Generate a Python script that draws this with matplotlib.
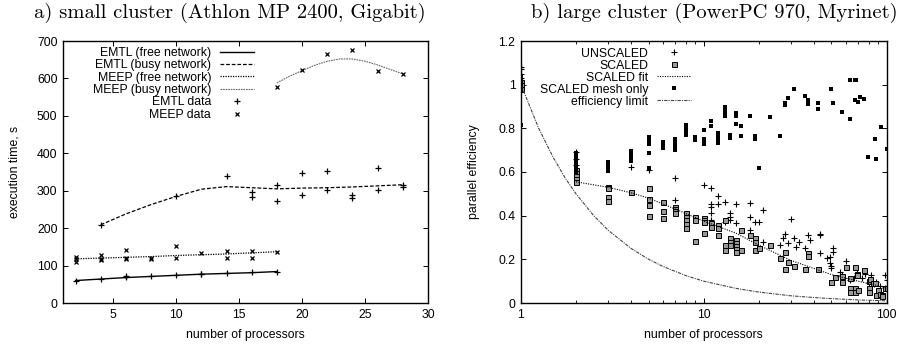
import matplotlib.pyplot as plt
import numpy as np
from matplotlib.ticker import FixedLocator, FuncFormatter, LogLocator, NullFormatter

# ---------------- a) small cluster ----------------
# EMTL, free network
emtl_free_n = [2, 4, 6, 6, 8, 10, 12, 12, 14, 16, 18]
emtl_free_t = [60, 64, 70, 72, 71, 75, 77, 78, 80, 82, 84]
emtl_free_fit_n = [2, 4, 6, 8, 10, 12, 14, 16, 18]
emtl_free_fit_t = [60, 64, 68, 71, 74, 77, 79, 81, 84]

# EMTL, busy network
emtl_busy_n = [4, 10, 14, 16, 16, 18, 18, 20, 20, 22, 22, 24, 24, 26, 26, 28, 28]
emtl_busy_t = [209, 285, 340, 297, 283, 315, 272, 346, 289, 353, 301, 289, 280, 361, 301, 315, 310]
emtl_busy_fit_n = [4, 6, 8, 10, 12, 14, 16, 18, 20, 22, 24, 26, 28]
emtl_busy_fit_t = [209, 238, 263, 285, 304, 311, 308, 305, 307, 308, 310, 313, 316]

# MEEP, free network
meep_free_n = [2, 2, 2, 4, 4, 4, 6, 6, 6, 8, 8, 10, 10, 12, 14, 14, 16, 16, 18]
meep_free_t = [123, 117, 110, 129, 117, 114, 142, 121, 118, 121, 118, 151, 119, 134, 139, 121, 139, 121, 137]
meep_free_fit_n = [2, 4, 6, 8, 10, 12, 14, 16, 18]
meep_free_fit_t = [118, 120, 122, 124, 127, 129, 131, 134, 137]

# MEEP, busy network
meep_busy_n = [18, 20, 22, 24, 26, 28]
meep_busy_t = [576, 622, 664, 675, 621, 612]
meep_busy_fit_n = [18, 19, 20, 21, 22, 23, 24, 25, 26, 27, 28]
meep_busy_fit_t = [588, 606, 621, 635, 646, 652, 652, 646, 636, 624, 612]

# ---------------- b) large cluster ----------------
unscaled_n = ([1]*7 + [2]*3 + [4, 5, 7, 7, 10] + [11]*5 + [12, 12, 13, 13, 14, 14, 14, 15, 15]
              + [18, 18, 18, 19, 20, 21, 21, 26, 27, 28, 29, 30, 31, 32, 33, 36, 37, 38]
              + [43, 43, 43, 47, 49, 49, 50, 50, 51, 51, 56, 57, 58, 60, 63, 66, 69, 73, 76,
                 80, 82, 85, 88, 92, 98, 98, 100, 100])
unscaled_e = ([1.08, 1.07, 1.05, 1.03, 1.01, 1.0, 0.98, 0.69, 0.66, 0.63, 0.622, 0.61, 0.571, 0.472, 0.54,
               0.525, 0.452, 0.441, 0.411, 0.38, 0.49, 0.452, 0.464, 0.372, 0.414, 0.396, 0.38, 0.452, 0.365]
              + [0.459, 0.395, 0.334, 0.372, 0.37, 0.426, 0.281, 0.266, 0.296, 0.316, 0.273, 0.383, 0.296,
                 0.258, 0.281, 0.25, 0.311, 0.289]
              + [0.316, 0.31, 0.228, 0.205, 0.21, 0.182, 0.168, 0.16, 0.252, 0.235, 0.143, 0.13, 0.113,
                 0.194, 0.105, 0.113, 0.139, 0.113, 0.133, 0.09, 0.128, 0.085, 0.098, 0.08, 0.128, 0.067,
                 0.105, 0.06])

scaled_n = ([1]*3 + [2]*5 + [3]*4 + [4] + [5]*4 + [6]*3 + [7]*4 + [8]*5 + [9]*3 + [10]*4 + [11]*2
            + [12]*3 + [13]*3 + [14]*3 + [15]*5 + [16]*2 + [18] + [19]*3 + [20, 23, 26, 28, 28, 29, 31, 36, 37, 37]
            + [42, 50, 50, 52, 57, 57, 60, 63, 63, 63, 67, 67, 67, 69, 69, 70, 75, 80, 80, 80, 81, 84, 87,
               88, 90, 92, 94, 95, 98, 100])
scaled_e = ([1.01, 1.0, 0.98, 0.61, 0.595, 0.58, 0.57, 0.556, 0.533, 0.525, 0.484, 0.469, 0.507,
             0.525, 0.475, 0.449, 0.40, 0.464, 0.421, 0.39, 0.441, 0.432, 0.423, 0.414,
             0.414, 0.395, 0.38, 0.36, 0.342, 0.392, 0.38, 0.284, 0.39, 0.38, 0.37, 0.322, 0.365, 0.35]
            + [0.357, 0.342, 0.31, 0.38, 0.266, 0.243, 0.296, 0.281, 0.266, 0.289, 0.275, 0.26, 0.247, 0.235,
               0.333, 0.243, 0.31, 0.298, 0.281, 0.243, 0.25, 0.266, 0.208, 0.235, 0.156, 0.19, 0.17, 0.156,
               0.23, 0.215]
            + [0.154, 0.098, 0.098, 0.118, 0.122, 0.098, 0.166, 0.113, 0.067, 0.052, 0.166, 0.067, 0.052,
               0.133, 0.128, 0.06, 0.151, 0.067, 0.052, 0.1, 0.108, 0.09, 0.09, 0.037, 0.06, 0.041, 0.037,
               0.032, 0.067, 0.07])

mesh_n = ([1]*9 + [2]*7 + [3]*4 + [4]*4 + [5]*5 + [6]*3 + [7]*4 + [8]*4 + [9]*2 + [10]*4 + [11]*2
          + [12]*4 + [13]*4 + [14]*2 + [15]*3 + [16]*2 + [18, 19, 19, 20, 23, 26, 28, 28, 29, 31, 36, 37, 37]
          + [42, 42, 50, 51, 57, 63, 63, 67, 67, 68, 70, 72, 75, 79, 87, 88, 93, 100])
mesh_e = ([1.04, 1.03, 1.02, 1.01, 1.0, 0.99, 0.98, 0.97, 0.815,
           0.685, 0.67, 0.655, 0.64, 0.625, 0.61, 0.6, 0.645, 0.63, 0.615, 0.605,
           0.695, 0.68, 0.665, 0.652, 0.76, 0.745, 0.73, 0.687, 0.62, 0.737, 0.724, 0.71,
           0.75, 0.735, 0.72, 0.70, 0.814, 0.8, 0.785, 0.77, 0.76, 0.745, 0.794, 0.75, 0.74, 0.728,
           0.835, 0.81]
          + [0.78, 0.765, 0.75, 0.733, 0.90, 0.885, 0.87, 0.855, 0.77, 0.757, 0.87, 0.857, 0.82, 0.812, 0.767,
             0.858, 0.765, 0.75, 0.62, 0.853, 0.767, 0.916, 0.908, 0.94, 0.982, 0.95, 0.93, 0.913]
          + [0.916, 0.89, 0.982, 0.916, 0.876, 1.023, 0.844, 1.02, 0.931, 1.02, 0.92, 0.945, 0.934, 0.67,
             0.753, 0.661, 0.806, 0.705])

fit_n = [2, 3, 4, 5, 7, 10, 15, 20, 30, 50, 70, 100]
fit_e = [0.555, 0.53, 0.505, 0.48, 0.43, 0.375, 0.32, 0.265, 0.195, 0.13, 0.10, 0.07]

limit_n = [1, 1.25, 1.5, 1.75, 2, 2.5, 3, 4, 5, 6, 8, 10, 15, 20, 30, 40, 50, 70, 100]
limit_e = [1, 0.8, 0.667, 0.571, 0.5, 0.4, 0.333, 0.25, 0.2, 0.167, 0.125, 0.1, 0.067, 0.05,
           0.033, 0.025, 0.02, 0.014, 0.01]

plt.rcParams['font.family'] = ['Liberation Sans', 'DejaVu Sans']
plt.rcParams['font.size'] = 8.8

fig = plt.figure(figsize=(9.06, 3.46), dpi=100)
ax1 = fig.add_axes([63/906, 43/346, 365/906, 262/346])
ax2 = fig.add_axes([521/906, 43/346, 365.5/906, 262/346])

# Panel a
ax1.plot(emtl_free_fit_n, emtl_free_fit_t, color='black', lw=1.0, label='EMTL (free network)')
ax1.plot(emtl_busy_fit_n, emtl_busy_fit_t, color='black', lw=0.9, ls=(0, (3, 1.5)), label='EMTL (busy network)')
ax1.plot(meep_free_fit_n, meep_free_fit_t, color='black', lw=0.9, ls=(0, (1, 1)), label='MEEP (free network)')
ax1.plot(meep_busy_fit_n, meep_busy_fit_t, color='#666666', lw=0.8, ls=(0, (1.5, 0.8)), label='MEEP (busy network)')
ax1.plot(emtl_free_n + emtl_busy_n, emtl_free_t + emtl_busy_t, ls='none', marker='+', ms=4.5,
         mew=0.9, color='black', label='EMTL data')
ax1.plot(meep_free_n + meep_busy_n, meep_free_t + meep_busy_t, ls='none', marker='x', ms=3.5,
         mew=0.9, color='black', label='MEEP data')

ax1.set_xlim(1, 30)
ax1.set_ylim(0, 700)
ax1.set_xticks([5, 10, 15, 20, 25, 30])
ax1.set_yticks(range(0, 701, 100))
ax1.set_xlabel('number of processors', labelpad=6)
ax1.set_ylabel('execution time, s', labelpad=12)
ax1.legend(loc='upper right', bbox_to_anchor=(0.523, 0.977), frameon=False, markerfirst=False,
           handlelength=2.8, handletextpad=0.7, labelspacing=0.03, borderpad=0, borderaxespad=0)

# Panel b
ax2.plot(unscaled_n, unscaled_e, ls='none', marker='+', ms=4, mew=0.8, color='black', label='UNSCALED')
ax2.plot(scaled_n, scaled_e, ls='none', marker='s', ms=3.6, mew=0.7, mfc='#999999', mec='black', label='SCALED')
ax2.plot(fit_n, fit_e, color='black', lw=0.8, ls=(0, (1, 1.2)), label='SCALED fit')
ax2.plot(mesh_n, mesh_e, ls='none', marker='s', ms=3.4, mew=0, color='black', label='SCALED mesh only')
ax2.plot(limit_n, limit_e, color='#444444', lw=0.8, ls=(0, (3, 1, 1, 1)), label='efficiency limit')

ax2.set_xscale('log')
ax2.set_xlim(1, 100)
ax2.set_ylim(0, 1.2)
ax2.xaxis.set_major_locator(FixedLocator([1, 10, 100]))
ax2.xaxis.set_major_formatter(FuncFormatter(lambda v, p: '%g' % v))
ax2.xaxis.set_minor_locator(LogLocator(base=10, subs=np.arange(2, 10)))
ax2.xaxis.set_minor_formatter(NullFormatter())
ax2.set_yticks([0, 0.2, 0.4, 0.6, 0.8, 1.0, 1.2])
ax2.yaxis.set_major_formatter(FuncFormatter(lambda v, p: '%g' % v))
ax2.set_xlabel('number of processors', labelpad=6)
ax2.set_ylabel('parallel efficiency', labelpad=13)
ax2.legend(loc='upper right', bbox_to_anchor=(0.465, 0.975), frameon=False, markerfirst=False,
           handlelength=2.8, handletextpad=0.7, labelspacing=0.0, borderpad=0, borderaxespad=0)

for ax in (ax1, ax2):
    ax.tick_params(which='major', direction='in', top=True, right=True, length=3.5, width=0.7, pad=4)
    ax.tick_params(which='minor', direction='in', top=True, right=True, length=2, width=0.6)
    for s in ax.spines.values():
        s.set_linewidth(1.0)

# Titles (serif, like the original LaTeX)
fig.text(230/906, 1 - 13/346, 'a) small cluster (Athlon MP 2400, Gigabit)', family='cmr10',
         fontsize=14.8, ha='center', va='center')
fig.text(714.5/906, 1 - 13/346, 'b) large cluster (PowerPC 970, Myrinet)', family='cmr10',
         fontsize=14.8, ha='center', va='center')

plt.savefig('out.png', dpi=100)
